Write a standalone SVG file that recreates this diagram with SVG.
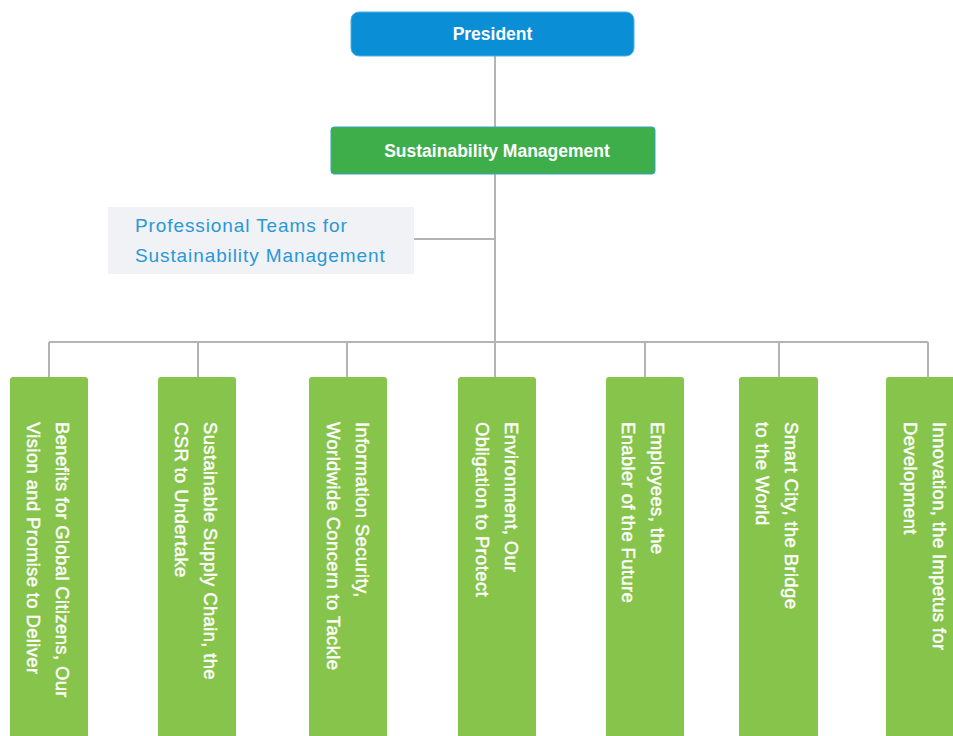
<svg xmlns="http://www.w3.org/2000/svg" width="953" height="736" viewBox="0 0 953 736">
<style>
.conn{fill:none;stroke:#b4b4b4;stroke-width:2}
.hdr{font-family:"Liberation Sans",Arial,sans-serif;font-weight:bold;font-size:17.5px;fill:#fff;text-anchor:middle;dominant-baseline:central}
.leaf rect{fill:#87c44b}
.vt{font-family:"Liberation Sans",Arial,sans-serif;font-size:18.5px;fill:#fff;stroke:#fff;stroke-width:0.45;dominant-baseline:central;letter-spacing:0.35px}
.team{font-family:"Liberation Sans",Arial,sans-serif;font-size:19px;fill:#2a98d8;letter-spacing:0.9px}
</style>
<rect width="953" height="736" fill="#fff"/>
<g id="connectors">
<path class="conn" d="M495 56V127M495 174V342M414 239H495M49 342H928M49 342V377M198 342V377M347 342V377M495 342V377M645 342V377M779 342V377M928 342V377"/>
</g>
<g id="president">
<rect x="351" y="12" width="283" height="44" rx="8" fill="#0a8fd6" stroke="#4fb0e6" stroke-width="1"/>
<text class="hdr" x="492.5" y="34">President</text>
</g>
<g id="sustainability-management">
<rect x="331" y="127" width="324" height="47" rx="3" fill="#3dae4a" stroke="#3aa3c8" stroke-width="1"/>
<text class="hdr" x="497" y="150.5">Sustainability Management</text>
</g>
<g id="professional-teams">
<rect x="108" y="207" width="306" height="67" fill="#f0f2f5"/>
<text class="team" x="135" y="232">Professional Teams for</text>
<text class="team" x="135" y="262">Sustainability Management</text>
</g>
<g id="leaf1" class="leaf">
<rect x="10" y="377" width="78" height="370" rx="3"/>
<g transform="translate(48,422) rotate(90)"><text class="vt" x="0" y="-14.5">Benefits for Global Citizens, Our</text><text class="vt" x="0" y="14.5">Vision and Promise to Deliver</text></g>
</g>
<g id="leaf2" class="leaf">
<rect x="158" y="377" width="78" height="370" rx="3"/>
<g transform="translate(196,422) rotate(90)"><text class="vt" x="0" y="-14.5">Sustainable Supply Chain, the</text><text class="vt" x="0" y="14.5">CSR to Undertake</text></g>
</g>
<g id="leaf3" class="leaf">
<rect x="309" y="377" width="78" height="370" rx="3"/>
<g transform="translate(347.5,422) rotate(90)"><text class="vt" x="0" y="-14.5">Information Security,</text><text class="vt" x="0" y="14.5">Worldwide Concern to Tackle</text></g>
</g>
<g id="leaf4" class="leaf">
<rect x="458" y="377" width="78" height="370" rx="3"/>
<g transform="translate(497,422) rotate(90)"><text class="vt" x="0" y="-14.5">Environment, Our</text><text class="vt" x="0" y="14.5">Obligation to Protect</text></g>
</g>
<g id="leaf5" class="leaf">
<rect x="606" y="377" width="78" height="370" rx="3"/>
<g transform="translate(643,422) rotate(90)"><text class="vt" x="0" y="-14.5">Employees, the</text><text class="vt" x="0" y="14.5">Enabler of the Future</text></g>
</g>
<g id="leaf6" class="leaf">
<rect x="739" y="377" width="79" height="370" rx="3"/>
<g transform="translate(777,422) rotate(90)"><text class="vt" x="0" y="-14.5">Smart City, the Bridge</text><text class="vt" x="0" y="14.5">to the World</text></g>
</g>
<g id="leaf7" class="leaf">
<rect x="886" y="377" width="79" height="370" rx="3"/>
<g transform="translate(925,422) rotate(90)"><text class="vt" x="0" y="-14.5">Innovation, the Impetus for</text><text class="vt" x="0" y="14.5">Development</text></g>
</g>
</svg>
